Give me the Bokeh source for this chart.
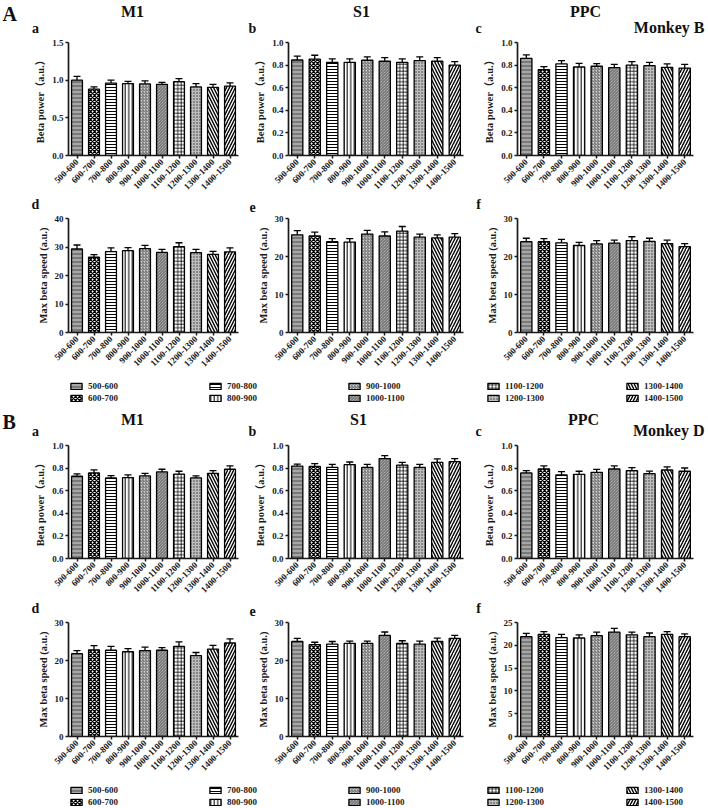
import math
from bokeh.plotting import figure
from bokeh.models import (ColumnDataSource, FactorRange, Range1d, Whisker, TeeHead,
                          FixedTicker, NumeralTickFormatter, Legend, LegendItem)
from bokeh.layouts import column, row
from bokeh.core.properties import value
from bokeh.embed import file_html
from bokeh.resources import INLINE

# ---------------- data ----------------
CATS = ["500-600", "600-700", "700-800", "800-900", "900-1000",
        "1000-1100", "1100-1200", "1200-1300", "1300-1400", "1400-1500"]

# Monkey B
B_M1_POWER = [1.00, 0.88, 0.96, 0.955, 0.95, 0.945, 0.98, 0.91, 0.905, 0.92]
B_M1_POWER_SEM = [0.05, 0.03, 0.04, 0.03, 0.04, 0.025, 0.04, 0.045, 0.04, 0.045]
B_S1_POWER = [0.845, 0.852, 0.825, 0.825, 0.843, 0.834, 0.825, 0.84, 0.834, 0.80]
B_S1_POWER_SEM = [0.035, 0.035, 0.03, 0.03, 0.03, 0.033, 0.03, 0.033, 0.033, 0.03]
B_PPC_POWER = [0.86, 0.76, 0.81, 0.783, 0.79, 0.777, 0.80, 0.795, 0.78, 0.774]
B_PPC_POWER_SEM = [0.03, 0.026, 0.03, 0.033, 0.023, 0.03, 0.03, 0.03, 0.03, 0.033]
B_M1_SPEED = [29.3, 26.4, 28.4, 28.7, 29.4, 28.1, 30.1, 28.0, 27.4, 28.3]
B_M1_SPEED_SEM = [1.4, 0.9, 1.3, 1.1, 1.2, 1.1, 1.4, 1.2, 1.1, 1.4]
B_S1_SPEED = [25.7, 25.4, 23.9, 23.8, 25.9, 25.4, 26.7, 25.1, 24.9, 25.1]
B_S1_SPEED_SEM = [1.1, 1.0, 0.8, 0.9, 1.0, 1.1, 1.2, 0.8, 0.8, 0.9]
B_PPC_SPEED = [23.9, 23.9, 23.6, 22.9, 23.3, 23.5, 24.2, 24.0, 23.4, 22.6]
B_PPC_SPEED_SEM = [0.9, 0.8, 0.9, 0.8, 0.9, 0.8, 1.0, 0.8, 0.9, 0.8]

# Monkey D
D_M1_POWER = [0.728, 0.757, 0.713, 0.716, 0.731, 0.766, 0.746, 0.713, 0.754, 0.79]
D_M1_POWER_SEM = [0.021, 0.027, 0.021, 0.024, 0.023, 0.024, 0.026, 0.018, 0.024, 0.03]
D_S1_POWER = [0.818, 0.815, 0.806, 0.83, 0.806, 0.884, 0.827, 0.806, 0.851, 0.857]
D_S1_POWER_SEM = [0.018, 0.024, 0.027, 0.024, 0.027, 0.026, 0.024, 0.027, 0.03, 0.027]
D_PPC_POWER = [0.757, 0.792, 0.739, 0.745, 0.763, 0.792, 0.777, 0.751, 0.783, 0.772]
D_PPC_POWER_SEM = [0.02, 0.027, 0.029, 0.027, 0.026, 0.027, 0.027, 0.023, 0.027, 0.029]
D_M1_SPEED = [21.8, 22.8, 22.7, 22.3, 22.6, 22.7, 23.7, 21.3, 23.0, 24.6]
D_M1_SPEED_SEM = [0.8, 1.1, 1.0, 0.8, 0.9, 0.7, 1.2, 0.8, 1.0, 1.1]
D_S1_SPEED = [25.0, 24.2, 24.3, 24.5, 24.5, 26.6, 24.5, 24.3, 25.0, 25.8]
D_S1_SPEED_SEM = [0.8, 0.6, 0.7, 0.6, 0.6, 0.9, 0.7, 0.8, 0.9, 0.8]
D_PPC_SPEED = [21.9, 22.4, 21.7, 21.6, 22.1, 22.9, 22.3, 21.9, 22.4, 21.9]
D_PPC_SPEED_SEM = [0.7, 0.6, 0.7, 0.7, 0.8, 0.8, 0.6, 0.8, 0.6, 0.6]

POWER_TICKS_M1B = [0, 0.5, 1.0, 1.5]
POWER_TICKS = [0, 0.2, 0.4, 0.6, 0.8, 1.0]
SPEED_TICKS_40 = [0, 10, 20, 30, 40]
SPEED_TICKS_30 = [0, 10, 20, 30]
SPEED_TICKS_25 = [0, 5, 10, 15, 20, 25]

POWER_LABEL = "Beta power\uff08a.u.\uff09"
SPEED_LABEL = "Max beta speed (a.u.)"

# ---------------- styles ----------------
FONT = "Liberation Serif"
LABEL_FONT = "Liberation Serif, 'Noto Sans CJK SC'"
W = 707
FILL = ["#7a7a7a", "white", "white", "white", "#d4d4d4", "#cccccc", "white", "#bdbdbd", "white", "white"]
HATCH = ["-", "x", "-", "|", "/", "\\", "+", ".", "\\", "/"]
HCOLOR = ["#c4c4c4", "black", "black", "black", "#444444", "#444444", "black", "#333333", "black", "black"]
HSCALE = [4, 4, 3, 3.5, 3, 3, 3.5, 3, 6, 6]
HWEIGHT = [1.2, 1.3, 1, 1, 0.8, 0.8, 0.8, 1.2, 1.4, 1.4]

COLS = [dict(width=243, left=68, right=5),
        dict(width=227, left=45, right=7),
        dict(width=237, left=47, right=14)]


def make_source(vals, sems):
    return ColumnDataSource(dict(cat=CATS, top=vals,
                                 upper=[v + s for v, s in zip(vals, sems)],
                                 fc=FILL, hp=HATCH, hc=HCOLOR, hs=HSCALE, hw=HWEIGHT))


def bars(p, src, **kw):
    return p.vbar(x="cat", top="top", width=0.64, source=src, fill_color="fc",
                  line_color="black", line_width=1.3, hatch_pattern="hp",
                  hatch_color="hc", hatch_scale="hs", hatch_weight="hw", **kw)


def panel(col, height, top_b, bottom_b, vals, sems, ymax, yticks, fmt, ylabel):
    c = COLS[col]
    src = make_source(vals, sems)
    p = figure(width=c["width"], height=height, x_range=FactorRange(*CATS),
               y_range=Range1d(0, ymax), toolbar_location=None, output_backend="svg",
               min_border_left=c["left"], min_border_right=c["right"],
               min_border_top=top_b, min_border_bottom=bottom_b)
    bars(p, src)
    p.add_layout(Whisker(base="cat", lower="top", upper="upper", source=src,
                         dimension="height", line_width=1.3, line_color="black",
                         upper_head=TeeHead(size=7, line_width=1.3, line_color="black"),
                         lower_head=None))
    p.xgrid.visible = False
    p.ygrid.visible = False
    p.outline_line_color = None
    p.background_fill_color = "white"
    p.border_fill_color = "white"
    for ax in (p.xaxis[0], p.yaxis[0]):
        ax.axis_line_width = 1.7
        ax.axis_line_color = "#1a1a1a"
        ax.major_tick_line_width = 1.5
        ax.major_tick_line_color = "#1a1a1a"
        ax.major_tick_in = 0
        ax.major_tick_out = 3
        ax.minor_tick_line_color = None
        ax.major_label_text_font = FONT
        ax.major_label_text_font_style = "bold"
        ax.major_label_text_font_size = "9px"
        ax.major_label_text_color = "#1a1a1a"
        ax.major_label_standoff = 2
    p.xaxis.major_label_orientation = math.pi / 4
    p.yaxis.ticker = FixedTicker(ticks=yticks)
    p.yaxis.formatter = NumeralTickFormatter(format=fmt)
    p.yaxis.axis_label = ylabel
    p.yaxis.axis_label_text_font = LABEL_FONT
    p.yaxis.axis_label_text_font_style = "bold"
    p.yaxis.axis_label_text_font_size = "10.5px"
    p.yaxis.axis_label_text_color = "#1a1a1a"
    p.yaxis.axis_label_standoff = 3
    return p


def header(h, texts):
    p = figure(width=W, height=h, x_range=Range1d(0, W), y_range=Range1d(h, 0),
               toolbar_location=None, output_backend="svg", min_border=0,
               x_axis_location=None, y_axis_location=None)
    p.xgrid.visible = False
    p.ygrid.visible = False
    p.outline_line_color = None
    for (x, y, txt, size, align) in texts:
        p.text(x=[x], y=[y], text=[txt], text_font=value(FONT), text_font_size=size,
               text_font_style="bold", text_align=align, text_baseline="bottom",
               text_color="#111111")
    return p


def legend_fig(h, loc_y):
    p = figure(width=W, height=h, x_range=FactorRange(*CATS), y_range=Range1d(0, 1),
               toolbar_location=None, output_backend="svg", min_border=0,
               x_axis_location=None, y_axis_location=None)
    p.xgrid.visible = False
    p.ygrid.visible = False
    p.outline_line_color = None
    src = make_source(B_S1_POWER, B_S1_POWER_SEM)
    r = bars(p, src, visible=False)
    items = [LegendItem(label=c, renderers=[r], index=i) for i, c in enumerate(CATS)]
    leg = Legend(items=items, nrows=2, orientation="vertical", location=(69, loc_y),
                 glyph_width=14, glyph_height=8, label_standoff=5, label_width=118,
                 label_height=10, spacing=2, padding=0, margin=0,
                 border_line_color=None, background_fill_alpha=0,
                 label_text_font=FONT, label_text_font_style="bold",
                 label_text_font_size="9px", label_text_color="#1a1a1a")
    p.add_layout(leg)
    return p


def panel_row(height, top_b, bottom_b, specs):
    return row(*[panel(i, height, top_b, bottom_b, *s) for i, s in enumerate(specs)])


hdrA = header(37, [(2, 24, "A", "20px", "left"),
                   (132, 19, "M1", "16px", "center"),
                   (361, 19, "S1", "16px", "center"),
                   (585, 19, "PPC", "16px", "center"),
                   (35, 35, "a", "14px", "center"),
                   (252, 35, "b", "14px", "center"),
                   (478, 35, "c", "14px", "center"),
                   (704, 35, "Monkey B", "16px", "right")])
rowA1 = panel_row(159, 5, 41, [
    (B_M1_POWER, B_M1_POWER_SEM, 1.5, POWER_TICKS_M1B, "0.0", POWER_LABEL),
    (B_S1_POWER, B_S1_POWER_SEM, 1.0, POWER_TICKS, "0.0", POWER_LABEL),
    (B_PPC_POWER, B_PPC_POWER_SEM, 1.0, POWER_TICKS, "0.0", POWER_LABEL)])
hdrD = header(17, [(35, 15, "d", "14px", "center"),
                   (252, 15, "e", "14px", "center"),
                   (478, 15, "f", "14px", "center")])
rowA2 = panel_row(164, 5, 45, [
    (B_M1_SPEED, B_M1_SPEED_SEM, 40, SPEED_TICKS_40, "0", SPEED_LABEL),
    (B_S1_SPEED, B_S1_SPEED_SEM, 30, SPEED_TICKS_30, "0", SPEED_LABEL),
    (B_PPC_SPEED, B_PPC_SPEED_SEM, 30, SPEED_TICKS_30, "0", SPEED_LABEL)])
legA = legend_fig(28, 2)
hdrB = header(35, [(2, 27, "B", "20px", "left"),
                   (132, 22, "M1", "16px", "center"),
                   (358, 22, "S1", "16px", "center"),
                   (583, 22, "PPC", "16px", "center"),
                   (35, 33, "a", "14px", "center"),
                   (252, 33, "b", "14px", "center"),
                   (478, 33, "c", "14px", "center"),
                   (704, 33, "Monkey D", "16px", "right")])
rowB1 = panel_row(159, 5, 41, [
    (D_M1_POWER, D_M1_POWER_SEM, 1.0, POWER_TICKS, "0.0", POWER_LABEL),
    (D_S1_POWER, D_S1_POWER_SEM, 1.0, POWER_TICKS, "0.0", POWER_LABEL),
    (D_PPC_POWER, D_PPC_POWER_SEM, 1.0, POWER_TICKS, "0.0", POWER_LABEL)])
hdrD2 = header(18, [(35, 16, "d", "14px", "center"),
                    (252, 16, "e", "14px", "center"),
                    (478, 16, "f", "14px", "center")])
rowB2 = panel_row(164, 5, 45, [
    (D_M1_SPEED, D_M1_SPEED_SEM, 30, SPEED_TICKS_30, "0", SPEED_LABEL),
    (D_S1_SPEED, D_S1_SPEED_SEM, 30, SPEED_TICKS_30, "0", SPEED_LABEL),
    (D_PPC_SPEED, D_PPC_SPEED_SEM, 25, SPEED_TICKS_25, "0", SPEED_LABEL)])
legB = legend_fig(26, 0)

layout = column(hdrA, rowA1, hdrD, rowA2, legA, hdrB, rowB1, hdrD2, rowB2, legB)

open("out.html", "w").write(file_html(layout, INLINE, title="Beta power and speed"))
